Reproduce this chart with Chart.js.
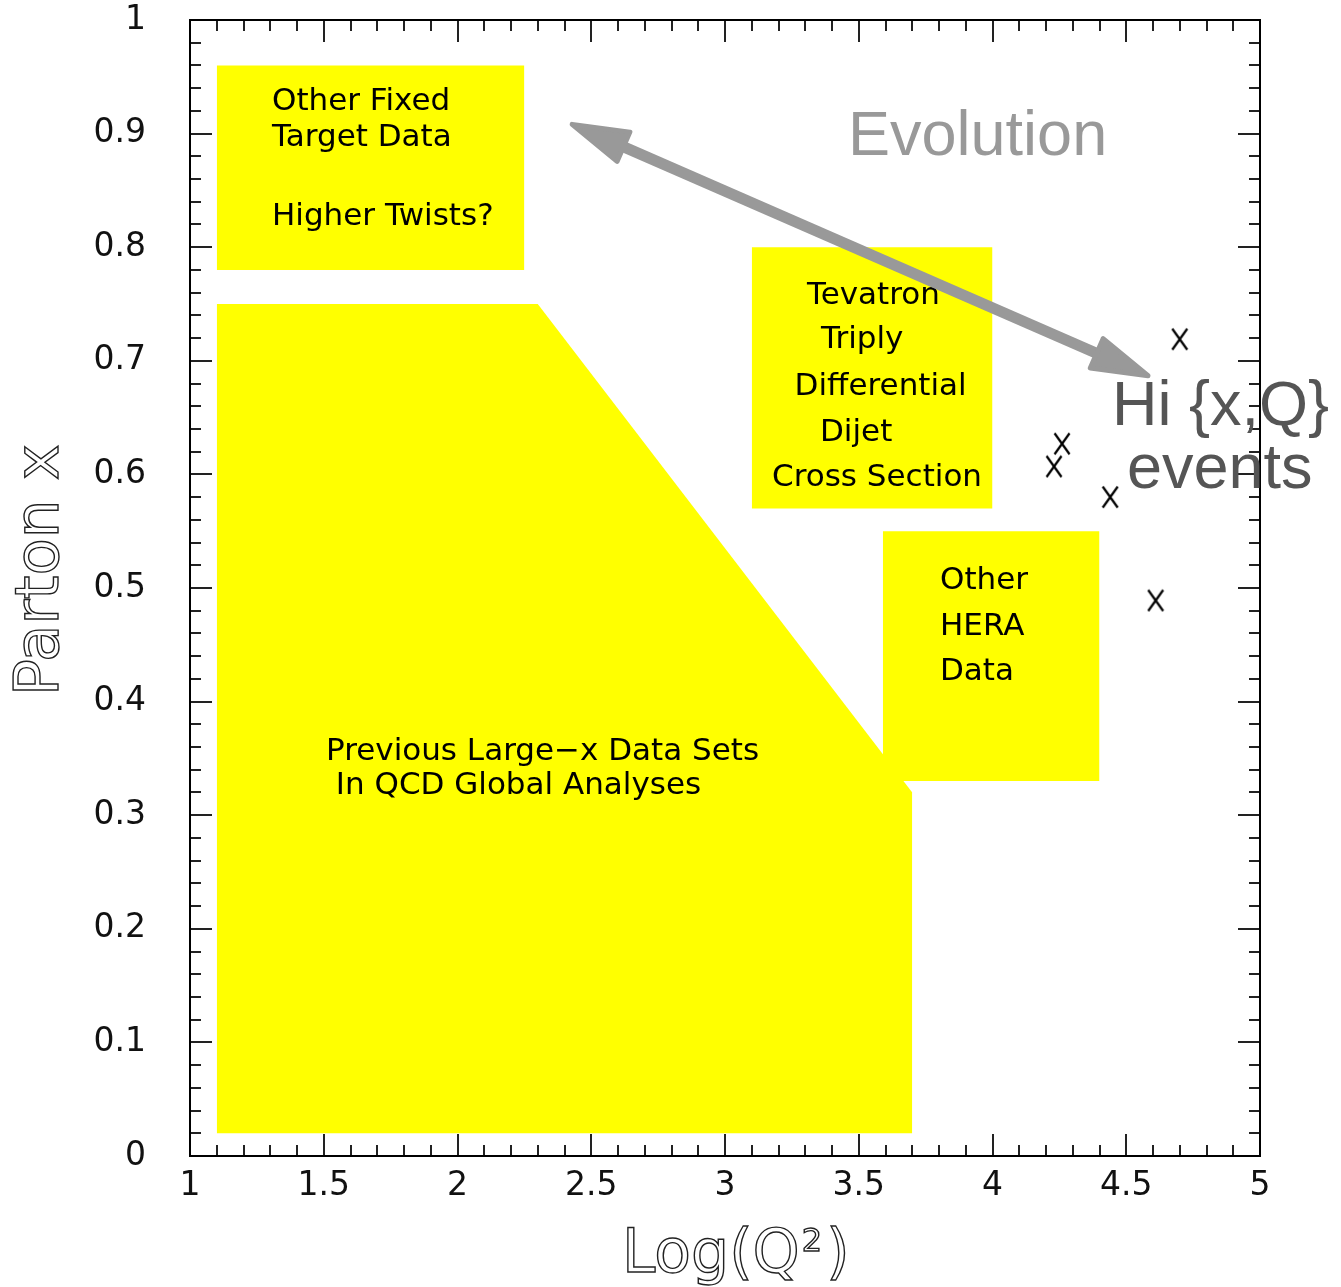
<!DOCTYPE html>
<html>
<head>
<meta charset="utf-8">
<script src="https://cdn.jsdelivr.net/npm/chart.js@4.4.1/dist/chart.umd.min.js"></script>
<style>
  html, body { margin: 0; padding: 0; background: #fff; }
  canvas { display: block; }
</style>
</head>
<body>
<canvas id="c" width="1341" height="1287"></canvas>
<script>
// Axis tick labels
const xTickLabels = ['1', '1.5', '2', '2.5', '3', '3.5', '4', '4.5', '5'];
const yTickLabels = ['0', '0.1', '0.2', '0.3', '0.4', '0.5', '0.6', '0.7', '0.8', '0.9', '1'];

// Kinematic coverage regions in (Log(Q^2), x)
const fixedTargetX = [1.1, 2.25];
const fixedTargetY = [0.96, 0.96];
const fixedTargetLow = 0.78;

const tevatronX = [3.1, 4.0];
const tevatronY = [0.80, 0.80];
const tevatronLow = 0.57;

const heraX = [3.59, 4.4];
const heraY = [0.55, 0.55];
const heraLow = 0.33;

const globalX = [1.1, 2.3, 3.7];
const globalY = [0.75, 0.75, 0.32];
const globalLow = 0.02;

// High {x,Q} events
const eventX = [4.70, 4.26, 4.23, 4.44, 4.61];
const eventY = [0.719, 0.627, 0.607, 0.580, 0.489];

// Evolution arrow end points
const arrowX = [2.42, 4.59];
const arrowY = [0.909, 0.686];

// Region captions
const boxNotes = [
  { text: 'Other Fixed', x: 1.3065, y: 0.9208 },
  { text: 'Target Data', x: 1.3065, y: 0.8891 },
  { text: 'Higher Twists?', x: 1.3065, y: 0.8195 },
  { text: 'Tevatron', x: 3.3065, y: 0.7500 },
  { text: 'Triply', x: 3.3589, y: 0.7113 },
  { text: 'Differential', x: 3.2602, y: 0.6699 },
  { text: 'Dijet', x: 3.3550, y: 0.6298 },
  { text: 'Cross Section', x: 3.1757, y: 0.5898 },
  { text: 'Other', x: 3.8037, y: 0.4991 },
  { text: 'HERA', x: 3.8037, y: 0.4586 },
  { text: 'Data', x: 3.8037, y: 0.4190 },
  { text: 'Previous Large\u2212x Data Sets', x: 1.5084, y: 0.3486 },
  { text: ' In QCD Global Analyses', x: 1.5084, y: 0.3187 }
];
const bigNotes = [
  { text: 'Evolution', x: 3.4598, y: 0.8812, color: '#999999' },
  { text: 'Hi {x,Q}', x: 4.4467, y: 0.6435, color: '#555555' },
  { text: 'events', x: 4.5028, y: 0.5880, color: '#555555' }
];

function region(xs, ys, low) {
  return {
    type: 'line',
    data: xs.map((x, i) => ({ x: x, y: ys[i] })),
    fill: { value: low },
    backgroundColor: '#ffff00',
    borderColor: 'rgba(0,0,0,0)',
    borderWidth: 0,
    pointRadius: 0,
    tension: 0
  };
}

// Slanted cross marker
function crossMarker() {
  const c = document.createElement('canvas');
  c.width = 18; c.height = 24;
  const g = c.getContext('2d');
  g.strokeStyle = '#000';
  g.lineWidth = 2.2;
  g.beginPath();
  g.moveTo(1.5, 1.5); g.lineTo(16.5, 22.5);
  g.moveTo(16.5, 1.5); g.lineTo(1.5, 22.5);
  g.stroke();
  return c;
}

function drawHead(ctx, tx, ty, ux, uy) {
  // (ux, uy): unit vector pointing from the tip back along the shaft
  const len = 56, half = 16, back = 2.5;
  const bx = tx + ux * back, by = ty + uy * back;
  const cx = bx + ux * len, cy = by + uy * len;
  const px = -uy, py = ux;
  ctx.beginPath();
  ctx.moveTo(bx, by);
  ctx.lineTo(cx + px * half, cy + py * half);
  ctx.lineTo(cx - px * half, cy - py * half);
  ctx.closePath();
  ctx.fill();
  ctx.stroke();
}

const decor = {
  id: 'decor',
  afterDatasetsDraw(chart) {
    const ctx = chart.ctx;
    const xs = chart.scales.x, ys = chart.scales.y;
    const a = chart.chartArea;
    ctx.save();

    // Frame ticks on all four sides
    ctx.strokeStyle = '#222';
    ctx.lineWidth = 2;
    ctx.beginPath();
    for (let i = 0; i <= 50; i++) {
      const py = Math.round(ys.getPixelForValue(i / 50));
      const L = (i % 5 === 0) ? 22 : 11;
      ctx.moveTo(a.left, py); ctx.lineTo(a.left + L, py);
      ctx.moveTo(a.right, py); ctx.lineTo(a.right - L, py);
    }
    for (let i = 0; i <= 40; i++) {
      const px = Math.round(xs.getPixelForValue(1 + i / 10));
      const L = (i % 5 === 0) ? 22 : 11;
      ctx.moveTo(px, a.bottom); ctx.lineTo(px, a.bottom - L);
      ctx.moveTo(px, a.top); ctx.lineTo(px, a.top + L);
    }
    ctx.stroke();
    ctx.strokeStyle = '#000';
    ctx.strokeRect(a.left, a.top, a.right - a.left, a.bottom - a.top);

    // Region captions
    ctx.fillStyle = '#000';
    ctx.font = '31px "DejaVu Sans"';
    ctx.textAlign = 'left';
    ctx.textBaseline = 'alphabetic';
    boxNotes.forEach(n => {
      ctx.fillText(n.text, xs.getPixelForValue(n.x), ys.getPixelForValue(n.y));
    });
    ctx.font = '63px "Liberation Sans", Arial, sans-serif';
    bigNotes.forEach(n => {
      ctx.fillStyle = n.color;
      ctx.fillText(n.text, xs.getPixelForValue(n.x), ys.getPixelForValue(n.y));
    });

    // Evolution arrow
    const x0 = xs.getPixelForValue(arrowX[0]), y0 = ys.getPixelForValue(arrowY[0]);
    const x1 = xs.getPixelForValue(arrowX[1]), y1 = ys.getPixelForValue(arrowY[1]);
    const d = Math.hypot(x1 - x0, y1 - y0);
    const ux = (x1 - x0) / d, uy = (y1 - y0) / d;
    ctx.strokeStyle = '#999999';
    ctx.fillStyle = '#999999';
    ctx.lineWidth = 11;
    ctx.lineCap = 'butt';
    ctx.beginPath();
    ctx.moveTo(x0 + ux * 40, y0 + uy * 40);
    ctx.lineTo(x1 - ux * 40, y1 - uy * 40);
    ctx.stroke();
    ctx.lineWidth = 5;
    ctx.lineJoin = 'round';
    drawHead(ctx, x0, y0, ux, uy);
    drawHead(ctx, x1, y1, -ux, -uy);

    // Hollow axis titles
    ctx.lineJoin = 'miter';
    ctx.lineWidth = 1.4;
    ctx.strokeStyle = '#222';
    ctx.font = '60px "DejaVu Sans"';
    ctx.textAlign = 'left';
    ctx.textBaseline = 'alphabetic';
    const titleX = 622, titleY = 1272;
    ctx.strokeText('Log(Q', titleX, titleY);
    const w1 = ctx.measureText('Log(Q').width;
    ctx.font = '32px "DejaVu Sans"';
    ctx.strokeText('2', titleX + w1 + 2, titleY - 21);
    const w2 = ctx.measureText('2').width;
    ctx.font = '60px "DejaVu Sans"';
    ctx.strokeText(')', titleX + w1 + w2 + 6, titleY);

    ctx.translate(58, 696);
    ctx.rotate(-Math.PI / 2);
    ctx.font = '61px "DejaVu Sans"';
    ctx.strokeText('Parton x', 0, 0);
    ctx.restore();
  }
};

new Chart(document.getElementById('c'), {
  type: 'line',
  data: {
    datasets: [
      region(globalX, globalY, globalLow),
      region(fixedTargetX, fixedTargetY, fixedTargetLow),
      region(tevatronX, tevatronY, tevatronLow),
      region(heraX, heraY, heraLow),
      {
        type: 'scatter',
        data: eventX.map((x, i) => ({ x: x, y: eventY[i] })),
        pointStyle: crossMarker(),
        pointRadius: 10,
        showLine: false
      }
    ]
  },
  options: {
    responsive: false,
    animation: false,
    devicePixelRatio: 1,
    layout: { padding: { top: 20, right: 81, left: 0, bottom: 0 } },
    plugins: { legend: { display: false }, tooltip: { enabled: false } },
    scales: {
      x: {
        type: 'linear', min: 1, max: 5,
        grid: { display: false, drawTicks: false }, border: { display: false },
        ticks: {
          stepSize: 0.5, autoSkip: false, maxRotation: 0, padding: 11,
          color: '#111', font: { family: 'DejaVu Sans', size: 33 },
          callback: (v, i) => xTickLabels[i]
        },
        afterFit(s) { s.height = 131; s.paddingLeft = 0; s.paddingRight = 0; }
      },
      y: {
        type: 'linear', min: 0, max: 1,
        grid: { display: false, drawTicks: false }, border: { display: false },
        ticks: {
          stepSize: 0.1, autoSkip: false, padding: 44,
          color: '#111', font: { family: 'DejaVu Sans', size: 33 },
          callback: (v, i) => yTickLabels[i]
        },
        afterFit(s) { s.width = 190; s.paddingTop = 0; s.paddingBottom = 0; }
      }
    }
  },
  plugins: [decor]
});
</script>
</body>
</html>
